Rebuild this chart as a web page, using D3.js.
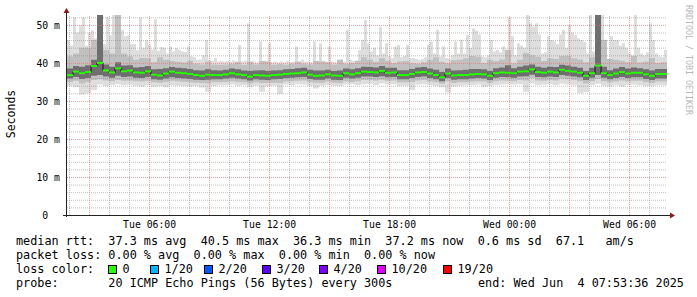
<!DOCTYPE html>
<html>
<head>
<meta charset="utf-8">
<script src="https://cdnjs.cloudflare.com/ajax/libs/d3/7.8.5/d3.min.js"></script>
<style>
  html, body { margin: 0; padding: 0; background: #fff; }
  svg { display: block; }
  text { font-family: "DejaVu Sans Mono", monospace; fill: #000; white-space: pre; }
</style>
</head>
<body>
<svg id="chart" width="697" height="297"></svg>
<script>
// Tue 01:53:36 .. Wed 07:53:36, core series every 18 min, max ping every 9 min
var start = new Date(2025, 5, 3, 1, 53, 36);
var end = new Date(2025, 5, 4, 7, 53, 36);
var stepMin = 18;
var maxStepMin = 9;

// median rtt (ms)
var med = [36.8, 37.7, 37.3, 37.6, 39.2, 40.0, 38.0, 37.5, 38.6, 37.8, 38.0, 37.5, 37.4, 37.8, 36.9, 36.7, 37.2, 37.7, 37.4, 37.3, 37.1, 36.8, 36.6, 36.9, 36.8,
  36.8, 37.0, 37.3, 37.0, 36.8, 36.4, 36.8, 36.7, 36.6, 36.8, 36.9, 37.1, 37.2, 37.3, 37.5, 36.9, 36.6, 36.7, 37.0, 36.7, 36.6, 37.3, 37.0, 37.3, 37.7,
  37.6, 37.5, 37.9, 37.4, 37.5, 36.8, 36.8, 37.1, 37.5, 37.6, 37.2, 36.8, 36.2, 37.2, 36.7, 36.8, 36.8, 37.0, 37.1, 37.0, 36.6, 37.3, 37.5, 37.4, 37.3,
  37.7, 37.8, 38.3, 37.6, 37.4, 37.7, 37.5, 38.2, 37.9, 37.7, 37.4, 36.6, 37.3, 39.3, 37.3, 36.8, 37.2, 37.6, 37.2, 37.4, 37.4, 37.0, 36.6, 37.1, 37.1];

// slowest ping (9 min steps)
var maxv = [46.0, 44.6, 52.0, 48.0, 49.9, 52.0, 44.5, 48.0, 48.6, 46.4, 47.0, 52.6, 45.0, 52.0, 47.3, 52.6, 46.4, 46.0, 48.6, 47.0,
  47.3, 45.0, 45.0, 43.3, 52.0, 44.0, 46.0, 44.7, 43.5, 51.5, 43.2, 44.2, 44.0, 42.5, 44.3, 43.0, 43.9, 43.4, 43.0, 42.9,
  44.3, 41.7, 41.5, 40.8, 40.9, 42.0, 46.0, 40.8, 40.6, 41.3, 40.4, 40.6, 40.3, 40.5, 40.4, 40.7, 40.3, 44.7, 40.4, 40.6,
  50.4, 40.2, 40.4, 40.1, 45.6, 40.4, 40.6, 45.2, 40.2, 40.3, 40.1, 40.4, 40.2, 40.5, 40.2, 40.3, 44.3, 40.4, 40.8, 40.3,
  40.4, 40.2, 45.6, 40.4, 45.2, 40.6, 40.3, 44.3, 40.4, 40.2, 40.5, 40.9, 40.3, 48.7, 40.8, 40.6, 40.4, 43.4, 46.0, 51.3,
  45.2, 43.0, 44.0, 42.0, 49.5, 42.5, 45.2, 41.7, 41.3, 44.3, 44.7, 41.5, 41.8, 44.7, 41.2, 41.3, 41.0, 40.8, 41.0, 41.5,
  44.7, 45.6, 42.5, 48.7, 41.7, 44.3, 41.3, 41.0, 42.0, 45.6, 42.5, 46.1, 42.5, 47.4, 44.0, 49.1, 48.5, 47.5, 41.7, 41.5,
  42.0, 46.1, 43.0, 43.4, 42.8, 44.3, 43.5, 52.0, 47.0, 42.0, 45.2, 44.5, 44.0, 52.6, 50.4, 49.5, 50.4, 47.5, 42.5, 42.8,
  47.0, 46.0, 45.6, 45.0, 47.5, 48.7, 44.0, 50.0, 48.0, 47.4, 46.5, 46.0, 45.5, 42.5, 52.6, 43.0, 46.0, 52.6, 52.6, 40.8,
  41.0, 47.0, 46.0, 46.0, 44.5, 45.2, 44.0, 42.5, 42.0, 52.6, 44.0, 42.5, 42.0, 42.8, 50.4, 46.0, 42.5, 41.7, 41.5, 43.4];

// upper edge of the middle smoke
var upv = [41.7, 42.5, 44.0, 44.0, 46.0, 52.6, 43.4, 42.5, 52.6, 42.5, 41.7, 40.8, 41.3, 41.2, 40.2, 41.5, 40.8, 40.5, 40.3, 40.1, 40.6, 39.8, 39.6, 40.4, 39.6,
  39.5, 39.6, 39.8, 40.3, 39.5, 40.4, 39.6, 40.5, 40.3, 39.5, 39.7, 39.5, 39.8, 40.3, 39.8, 39.6, 40.5, 40.4, 40.2, 39.6, 40.8, 39.8, 40.0, 40.6, 41.5,
  40.8, 40.3, 41.2, 40.6, 40.0, 40.4, 40.5, 39.9, 39.8, 40.2, 40.8, 41.5, 40.3, 39.9, 40.7, 40.8, 41.2, 41.8, 41.6, 40.0, 40.8, 40.5, 40.9, 43.4, 39.9,
  40.8, 42.6, 42.0, 41.6, 40.5, 41.2, 41.0, 41.8, 41.9, 41.2, 40.9, 40.2, 41.5, 52.6, 46.0, 41.0, 40.8, 40.6, 40.2, 41.8, 40.1, 40.4, 41.3, 40.0, 40.2];

// upper edge of the dense core
var hiv = [38.5, 39.2, 39.0, 39.4, 40.8, 52.6, 39.6, 39.0, 40.2, 39.3, 39.4, 38.8, 38.9, 39.2, 38.3, 38.4, 38.6, 38.9, 38.7, 38.6, 38.4, 38.1, 38.0, 38.3, 38.1,
  38.0, 38.2, 38.5, 38.3, 38.0, 37.9, 38.0, 38.1, 37.9, 38.0, 38.1, 38.3, 38.4, 38.6, 38.7, 38.2, 38.0, 38.0, 38.2, 37.9, 38.0, 38.5, 38.3, 38.6, 39.0,
  38.9, 38.8, 39.2, 38.7, 38.7, 38.1, 38.1, 38.4, 38.8, 38.9, 38.5, 38.2, 37.6, 38.5, 38.0, 38.1, 38.2, 38.4, 38.4, 38.3, 37.9, 38.6, 38.8, 39.4, 38.6,
  39.0, 39.3, 39.6, 39.0, 38.7, 39.0, 38.9, 39.5, 39.3, 39.0, 38.7, 37.9, 38.7, 52.6, 39.0, 38.1, 38.5, 38.9, 38.5, 38.8, 38.6, 38.3, 38.0, 38.4, 38.4];

// lower edge of the dense core
var lov = [35.9, 36.3, 35.8, 36.0, 36.6, 36.8, 36.4, 36.1, 36.6, 36.3, 36.4, 36.1, 36.0, 36.3, 35.7, 35.6, 35.9, 36.2, 36.0, 35.9, 35.8, 35.6, 35.5, 35.6, 35.7,
  35.7, 35.9, 36.1, 35.9, 35.7, 35.4, 35.7, 35.6, 35.5, 35.7, 35.8, 36.0, 36.1, 36.2, 36.3, 35.8, 35.6, 35.6, 35.9, 35.6, 35.5, 36.1, 35.9, 36.1, 36.4,
  36.4, 36.3, 36.5, 36.2, 36.3, 35.7, 35.7, 36.0, 36.3, 36.4, 36.0, 35.7, 35.2, 36.0, 35.6, 35.7, 35.7, 35.9, 36.0, 35.9, 35.5, 36.1, 36.3, 36.2, 36.1,
  36.4, 36.5, 36.9, 36.3, 36.2, 36.4, 36.3, 36.8, 36.6, 36.4, 36.2, 35.5, 36.1, 36.8, 36.1, 35.7, 36.0, 36.3, 36.0, 36.2, 36.2, 35.8, 35.5, 35.9, 35.9];

// lower edge of the middle smoke
var lo2 = [35.0, 35.3, 34.6, 34.9, 35.5, 35.7, 35.4, 35.2, 35.5, 35.3, 35.4, 35.2, 35.1, 35.3, 34.9, 34.8, 35.0, 35.3, 35.1, 35.0, 34.9, 34.8, 34.7, 34.6, 34.9,
  34.9, 35.0, 35.2, 35.0, 34.9, 34.6, 34.9, 34.7, 34.7, 34.8, 34.7, 35.1, 35.2, 35.3, 35.4, 35.0, 34.8, 34.8, 35.1, 34.8, 34.7, 35.2, 35.0, 35.2, 35.5,
  35.5, 35.4, 35.6, 35.3, 35.4, 34.9, 34.9, 35.0, 35.4, 35.5, 35.1, 34.9, 34.5, 35.1, 34.7, 34.9, 34.9, 35.1, 35.2, 35.1, 34.7, 35.2, 35.4, 35.3, 35.2,
  35.5, 35.4, 36.0, 35.4, 35.3, 35.5, 35.4, 35.9, 35.7, 35.5, 35.2, 34.6, 35.2, 35.8, 35.2, 34.9, 35.1, 35.4, 35.1, 35.3, 35.3, 34.9, 34.7, 35.1, 35.1];

// fastest ping
var minv = [34.0, 33.6, 31.7, 32.0, 32.9, 34.3, 33.9, 34.2, 34.4, 34.2, 34.3, 34.0, 33.8, 34.2, 33.7, 33.9, 33.6, 34.1, 34.0, 33.9, 33.8, 33.9, 33.5, 32.4, 33.9,
  34.1, 34.2, 34.3, 34.0, 34.1, 33.6, 34.0, 32.4, 33.9, 34.0, 31.8, 34.3, 34.2, 34.4, 34.3, 34.0, 33.3, 34.0, 34.2, 34.0, 33.9, 34.3, 34.4, 34.2, 34.4,
  34.5, 34.2, 34.6, 34.3, 34.4, 33.9, 34.0, 32.9, 34.3, 34.4, 34.2, 33.9, 33.6, 32.2, 33.8, 34.0, 34.1, 34.2, 34.3, 33.7, 33.9, 34.2, 34.3, 34.4, 34.3,
  34.4, 32.4, 34.6, 34.2, 34.3, 34.4, 34.2, 34.5, 34.3, 34.1, 32.0, 32.3, 34.2, 34.5, 34.0, 33.8, 34.1, 33.8, 34.2, 34.3, 34.1, 33.9, 33.9, 34.1, 34.1];

var yMajor = [0, 10, 20, 30, 40, 50];
var lossLabels = ["0", "1/20", "2/20", "3/20", "4/20", "10/20", "19/20"];
var lossColors = ["#26ff00", "#00b8ff", "#0059ff", "#5e00ff", "#7e00ff", "#dd00ff", "#ff0000"];
var legendLines = [
  "median rtt:  37.3 ms avg  40.5 ms max  36.3 ms min  37.2 ms now  0.6 ms sd  67.1   am/s",
  "packet loss: 0.00 % avg  0.00 % max  0.00 % min  0.00 % now",
  "loss color:",
  "probe:       20 ICMP Echo Pings (56 Bytes) every 300s"
];
var endText = "end: Wed Jun  4 07:53:36 2025";

(function () {
  var pLeft = 67, pRight = 667, pTop = 15, pBottom = 215;
  var svg = d3.select("#chart");

  var x = d3.scaleTime().domain([start, end]).range([pLeft, pRight]);
  var y = d3.scaleLinear().domain([0, 52.6]).range([pBottom, pTop]);

  var N = med.length;
  var pts = d3.range(N + 1).map(function (i) {
    return { t: d3.timeMinute.offset(start, i * stepMin), k: Math.min(i, N - 1) };
  });
  // finer grid for the max ping, with the matching coarse index for the minimum
  var M = maxv.length;
  var fine = d3.range(M + 1).map(function (j) {
    var t = d3.timeMinute.offset(start, j * maxStepMin);
    return { t: t, j: Math.min(j, M - 1), k: Math.min(Math.floor(j * maxStepMin / stepMin), N - 1) };
  });

  var light = d3.area()
    .curve(d3.curveStepAfter)
    .x(function (d) { return x(d.t); })
    .y0(function (d) { return y(minv[d.k]); })
    .y1(function (d) { return y(maxv[d.j]); });
  svg.append("path").datum(fine).attr("d", light).attr("fill", "#dedede");

  function band(lo, hi, color) {
    var area = d3.area()
      .curve(d3.curveStepAfter)
      .x(function (d) { return x(d.t); })
      .y0(function (d) { return y(lo[d.k]); })
      .y1(function (d) { return y(hi[d.k]); });
    svg.append("path").datum(pts).attr("d", area).attr("fill", color);
  }
  band(lo2, upv, "#c0c0c0");
  band(lov, hiv, "#6e6e6e");

  // grid on top of smoke
  var gMinorY = svg.append("g").attr("transform", "translate(" + pLeft + ",0)")
    .call(d3.axisLeft(y).tickValues(d3.range(0, 53, 2).filter(function (v) { return v % 10 != 0; }))
      .tickSize(-(pRight - pLeft)).tickFormat(""));
  var gMinorX = svg.append("g").attr("transform", "translate(0," + pBottom + ")")
    .call(d3.axisBottom(x).ticks(d3.timeHour.every(1)).tickSize(-(pBottom - pTop)).tickFormat(""));
  [gMinorY, gMinorX].forEach(function (g) {
    g.select(".domain").remove();
    g.selectAll("line").attr("stroke", "rgba(128,128,128,0.5)").attr("stroke-dasharray", "1,1");
  });
  gMinorX.selectAll(".tick").filter(function (d) { return d.getHours() % 3 == 0; }).remove();

  var gMajorY = svg.append("g").attr("transform", "translate(" + pLeft + ",0)")
    .call(d3.axisLeft(y).tickValues(yMajor.slice(1)).tickSize(-(pRight - pLeft)).tickFormat(""));
  var gMajorX = svg.append("g").attr("transform", "translate(0," + pBottom + ")")
    .call(d3.axisBottom(x).ticks(d3.timeHour.every(3)).tickSize(-(pBottom - pTop)).tickFormat(""));
  [gMajorY, gMajorX].forEach(function (g) {
    g.select(".domain").remove();
    g.selectAll("line").attr("stroke", "rgba(240,110,110,0.7)").attr("stroke-dasharray", "1,1");
  });

  // median line: dark steps with green segments
  var stepLine = d3.line().curve(d3.curveStepAfter)
    .x(function (d) { return x(d.t); })
    .y(function (d) { return y(med[d.k]); });
  svg.append("path").datum(pts).attr("d", stepLine)
    .attr("fill", "none").attr("stroke", "#111").attr("stroke-width", 1);
  svg.append("g").selectAll("line").data(pts.slice(0, N)).enter().append("line")
    .attr("x1", function (d) { return x(d.t); })
    .attr("x2", function (d, i) { return x(pts[i + 1].t); })
    .attr("y1", function (d) { return y(med[d.k]); })
    .attr("y2", function (d) { return y(med[d.k]); })
    .attr("stroke", lossColors[0]).attr("stroke-width", 2);

  // axes
  var yAxis = svg.append("g").attr("transform", "translate(" + pLeft + ",0)")
    .call(d3.axisLeft(y).tickValues(yMajor).tickSize(0).tickPadding(7)
      .tickFormat(function (v) { return v == 0 ? "0  " : v + " m"; }));
  yAxis.select(".domain").remove();
  yAxis.selectAll("text").style("font-family", "DejaVu Sans Mono").style("font-size", "9.8px").style("fill", "#000");

  var xAxis = svg.append("g").attr("transform", "translate(0," + pBottom + ")")
    .call(d3.axisBottom(x).ticks(d3.timeHour.every(6)).tickSize(0).tickPadding(6)
      .tickFormat(d3.timeFormat("%a %H:%M")));
  xAxis.select(".domain").remove();
  xAxis.selectAll("text").style("font-family", "DejaVu Sans Mono").style("font-size", "9.8px").style("fill", "#000");

  svg.append("line").attr("x1", pLeft - 4).attr("x2", pRight + 3).attr("y1", pBottom + 0.5).attr("y2", pBottom + 0.5)
    .attr("stroke", "#222").attr("stroke-width", 1);
  svg.append("line").attr("x1", pLeft - 0.5).attr("x2", pLeft - 0.5).attr("y1", pBottom + 2).attr("y2", pTop - 3)
    .attr("stroke", "#222").attr("stroke-width", 1);
  svg.append("path").attr("d", "M" + (pLeft - 0.5) + ",8L" + (pLeft - 3.5) + ",13L" + (pLeft + 2.5) + ",13Z").attr("fill", "#8b1a1a");
  svg.append("path").attr("d", "M" + (pRight + 8) + "," + (pBottom + 0.5) + "L" + (pRight + 3) + "," + (pBottom - 2.5) + "L" + (pRight + 3) + "," + (pBottom + 3.5) + "Z").attr("fill", "#8b1a1a");

  // titles
  svg.append("text").attr("transform", "translate(15,114) rotate(-90)")
    .attr("text-anchor", "middle").style("font-size", "11.5px").text("Seconds");
  svg.append("text").attr("transform", "translate(686,5) rotate(90)")
    .style("font-size", "8.3px").style("fill", "#b8b8b8").text("RRDTOOL / TOBI OETIKER");

  // legend
  var rowY = [245, 259, 273, 287];
  svg.append("g").selectAll("text").data(legendLines).enter().append("text")
    .attr("x", 16).attr("y", function (d, i) { return rowY[i]; })
    .style("font-size", "11.8px").text(function (d) { return d; });
  svg.append("text").attr("x", 478).attr("y", rowY[3]).style("font-size", "11.8px").text(endText);

  var swatchX = [108, 150, 204, 262, 319, 377, 443];
  var sw = svg.append("g").selectAll("g").data(lossLabels).enter().append("g");
  sw.append("rect")
    .attr("x", function (d, i) { return swatchX[i] + 0.5; }).attr("y", 265.5)
    .attr("width", 8).attr("height", 8)
    .attr("fill", function (d, i) { return lossColors[i]; })
    .attr("stroke", "#000").attr("stroke-width", 1);
  sw.append("text")
    .attr("x", function (d, i) { return swatchX[i] + 14.5; }).attr("y", rowY[2])
    .style("font-size", "11.8px").text(function (d) { return d; });
})();
</script>
</body>
</html>
